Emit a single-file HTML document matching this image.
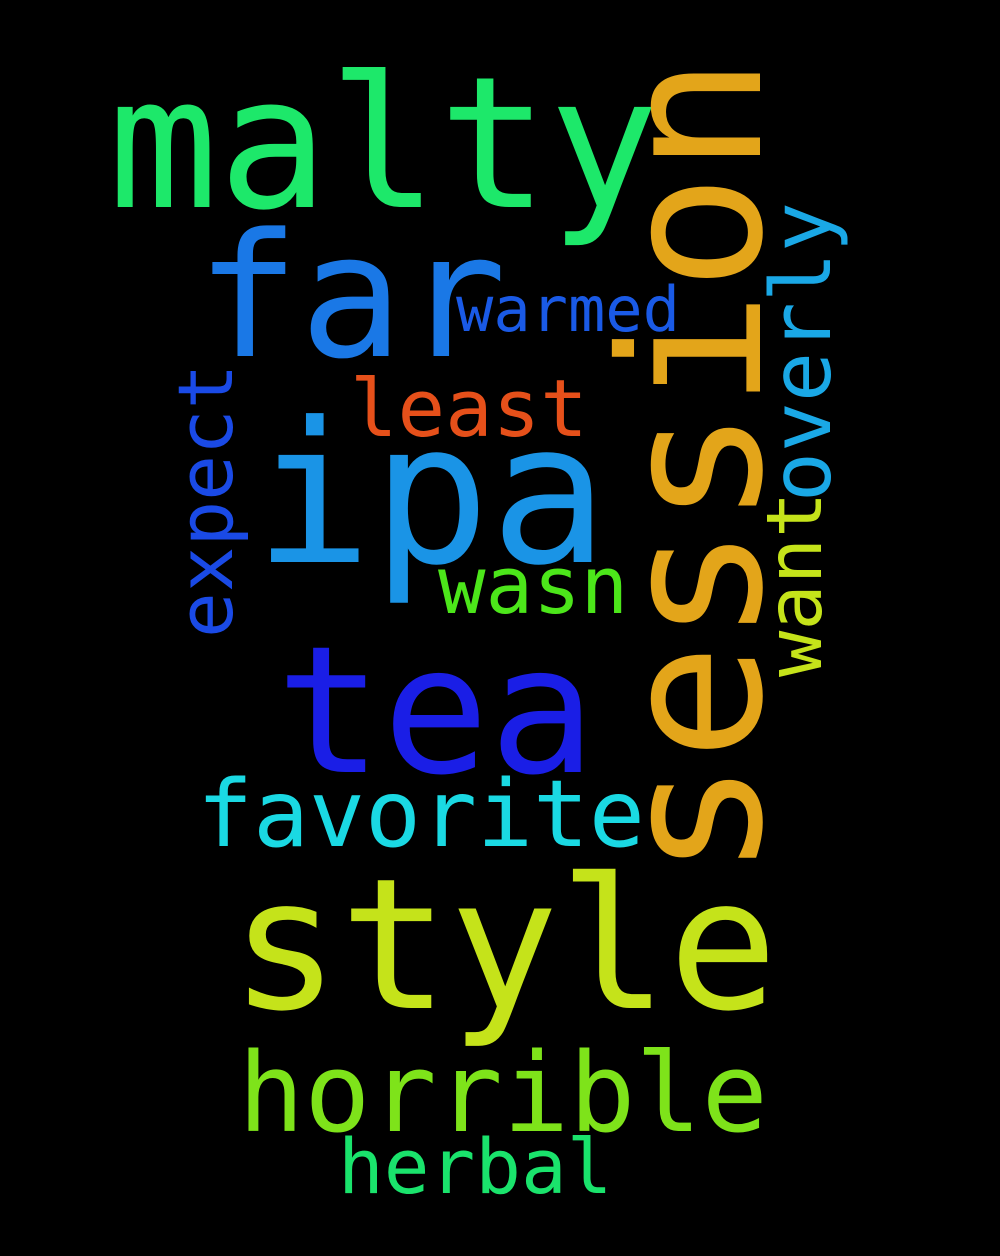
<!DOCTYPE html>
<html><head><meta charset="utf-8"><style>
html,body{margin:0;padding:0;background:#000;}
svg{display:block;}
text{font-family:"DejaVu Sans Mono","Liberation Mono",monospace;}
</style></head><body>
<svg width="1000" height="1256" viewBox="0 0 1000 1256">
<rect width="1000" height="1256" fill="#000"/>
<text x="108" y="207" font-size="183" fill="#1de86a">malty</text>
<text x="196" y="356" font-size="172" fill="#1a78e6">far</text>
<text x="254" y="562" font-size="196" fill="#1a94e6">ipa</text>
<text x="276" y="772" font-size="177" fill="#1a1ee6">tea</text>
<text x="230" y="1008" font-size="182" fill="#c5e31a">style</text>
<text x="238" y="1131" font-size="110" fill="#7ee31a">horrible</text>
<text x="338" y="1193" font-size="76" fill="#1ae36c">herbal</text>
<text x="197" y="846" font-size="93" fill="#1ad9e3">favorite</text>
<text x="438" y="613" font-size="79" fill="#4ce61a">wasn</text>
<text x="350" y="436" font-size="79" fill="#e6501a">least</text>
<text x="456" y="331" font-size="62" fill="#1a5ae6">warmed</text>
<text transform="translate(760,878) rotate(-90)" font-size="195" fill="#e3a51a">session</text>
<text transform="translate(232,638) rotate(-90)" font-size="76" fill="#1a4ae6">expect</text>
<text transform="translate(830,502) rotate(-90)" font-size="83" fill="#1aa8e6">overly</text>
<text transform="translate(821,677) rotate(-90)" font-size="77" fill="#c5e31a">want</text>
</svg>
</body></html>
